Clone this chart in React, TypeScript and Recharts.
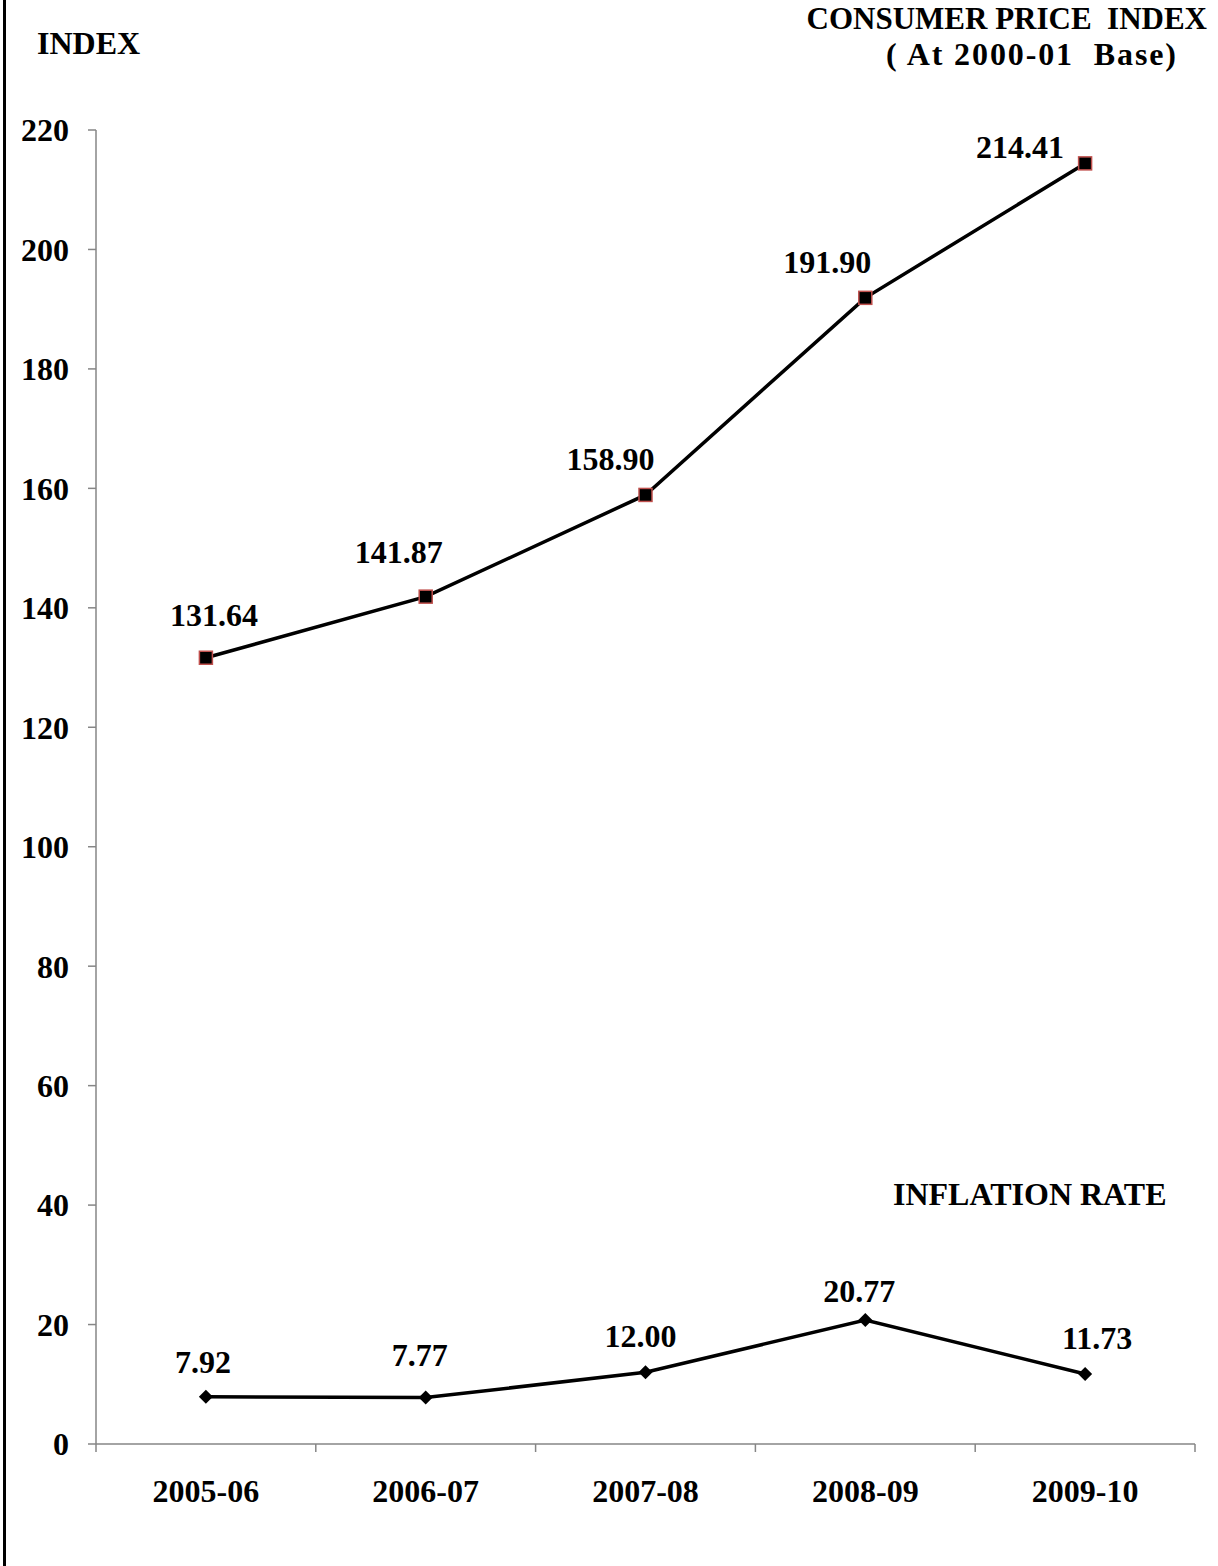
import { LineChart, Line, XAxis, YAxis, LabelList } from 'recharts';

const years = ['2005-06', '2006-07', '2007-08', '2008-09', '2009-10'];
const cpiValues = [131.64, 141.87, 158.9, 191.9, 214.41];
const inflationValues = [7.92, 7.77, 12.0, 20.77, 11.73];
const yTicks = [0, 20, 40, 60, 80, 100, 120, 140, 160, 180, 200, 220];

// label nudges (dx, distance of baseline above the point)
const cpiLabelDx = [8, -27, -35, -38, -65];
const cpiLabelUp = [32, 34, 25, 25, 5];
const infLabelDx = [-3, -6, -5, -6, 12];
const infLabelUp = [24, 32, 25, 18, 25];

const FONT = "'Liberation Serif', 'Times New Roman', serif";

// x axis is numeric 0..5: integers are the band edges, halves are the band centres
const xTicks = [0, 0.5, 1, 1.5, 2, 2.5, 3, 3.5, 4, 4.5, 5];

const data = years.map((year, i) => ({
  year,
  pos: i + 0.5,
  cpi: cpiValues[i],
  inflation: inflationValues[i],
}));

const fmt = (v: number) => v.toFixed(2);

const SquareDot = (props: any) => {
  const { cx, cy } = props;
  if (cx == null || cy == null) return null;
  return <rect x={cx - 6.5} y={cy - 6.5} width={13} height={13} fill="#000" stroke="#C0504D" strokeWidth={1.5} />;
};

const DiamondDot = (props: any) => {
  const { cx, cy } = props;
  if (cx == null || cy == null) return null;
  return <polygon points={`${cx},${cy - 7} ${cx + 7},${cy} ${cx},${cy + 7} ${cx - 7},${cy}`} fill="#000" />;
};

const makeLabel = (dxs: number[], ups: number[]) => (props: any) => {
  const { x, y, value, index } = props;
  return (
    <text
      x={x + dxs[index]}
      y={y - ups[index]}
      textAnchor="middle"
      fontFamily={FONT}
      fontWeight="bold"
      fontSize={32}
      fill="#000"
    >
      {fmt(value)}
    </text>
  );
};

const XTick = (props: any) => {
  const { x, y, payload } = props;
  const v = payload.value as number;
  if (Number.isInteger(v)) {
    return <line x1={x} x2={x} y1={y - 8} y2={y} stroke="#868686" strokeWidth={1.5} />;
  }
  return (
    <text x={x} y={y + 50} textAnchor="middle" fontFamily={FONT} fontWeight="bold" fontSize={32} fill="#000">
      {years[Math.floor(v)]}
    </text>
  );
};

const App = () => {
  return (
    <div style={{ position: 'absolute', left: 0, top: 0, width: 1218, height: 1566, background: '#fff' }}>
      <div style={{ position: 'absolute', left: 3, top: 0, width: 3, height: 1566, background: '#000' }} />
      <LineChart width={1218} height={1566} data={data} margin={{ top: 130, right: 23, bottom: 42, left: 0 }}>
        <XAxis
          dataKey="pos"
          type="number"
          domain={[0, 5]}
          ticks={xTicks}
          interval={0}
          height={80}
          tickSize={8}
          tickMargin={0}
          tickLine={false}
          axisLine={{ stroke: '#868686', strokeWidth: 1.5 }}
          tick={<XTick />}
        />
        <YAxis
          domain={[0, 220]}
          ticks={yTicks}
          interval={0}
          width={96}
          tickSize={8}
          tickMargin={19}
          axisLine={{ stroke: '#868686', strokeWidth: 1.5 }}
          tickLine={{ stroke: '#868686', strokeWidth: 1.5 }}
          tick={{ fill: '#000', fontFamily: FONT, fontWeight: 'bold', fontSize: 32 }}
        />
        <Line
          dataKey="cpi"
          stroke="#000"
          strokeWidth={3.5}
          dot={<SquareDot />}
          isAnimationActive={false}
        >
          <LabelList dataKey="cpi" content={makeLabel(cpiLabelDx, cpiLabelUp)} />
        </Line>
        <Line
          dataKey="inflation"
          stroke="#000"
          strokeWidth={3.5}
          dot={<DiamondDot />}
          isAnimationActive={false}
        >
          <LabelList dataKey="inflation" content={makeLabel(infLabelDx, infLabelUp)} />
        </Line>
      </LineChart>
      <svg
        width={1218}
        height={1566}
        style={{ position: 'absolute', left: 0, top: 0, pointerEvents: 'none' }}
        fontFamily={FONT}
        fontWeight="bold"
      >
        <text x={37} y={54} fontSize={32} fill="#000">INDEX</text>
        <text x={1207} y={29} fontSize={31} textAnchor="end" fill="#000" style={{ whiteSpace: 'pre' }}>
          CONSUMER PRICE  INDEX
        </text>
        <text
          x={886}
          y={65}
          fontSize={32}
          fill="#000"
          textLength={290}
          lengthAdjust="spacing"
          style={{ whiteSpace: 'pre' }}
        >
          ( At 2000-01  Base)
        </text>
        <text x={893} y={1205} fontSize={32} fill="#000">INFLATION RATE</text>
      </svg>
    </div>
  );
};

export default App;
